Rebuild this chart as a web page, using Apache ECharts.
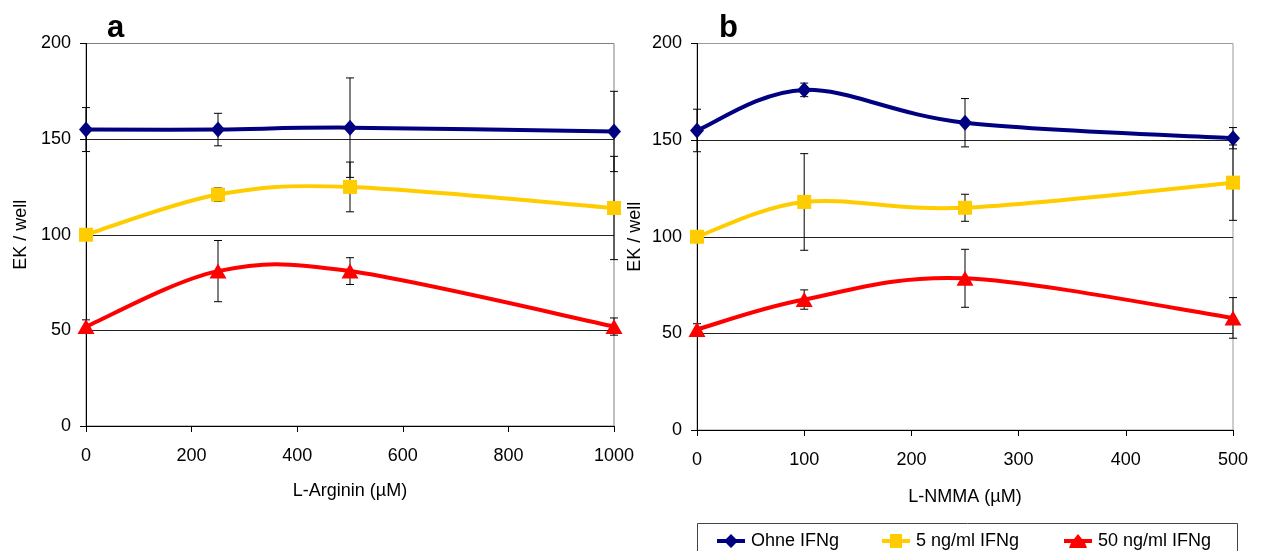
<!DOCTYPE html>
<html>
<head>
<meta charset="utf-8">
<script src="https://cdn.jsdelivr.net/npm/echarts@6/dist/echarts.min.js"></script>
<style>
html,body{margin:0;padding:0;background:#fff;}
#c{width:1261px;height:551px;}
</style>
</head>
<body>
<div id="c"></div>
<script>
// ---- Data ----
const seriesNames = ['Ohne IFNg', '5 ng/ml IFNg', '50 ng/ml IFNg'];

// Panel a: L-Arginin (µM)
const xA = [0, 250, 500, 1000];
const aOhne = [155, 155, 156, 154];
const aOhneErr = [11.5, 8.5, 26, 21];
const a5 = [100, 121, 125, 114];
const a5Err = [1, 3.5, 13, 27];
const a50 = [52, 81, 81, 52];
const a50Err = [3.5, 16, 7, 4.5];

// Panel b: L-NMMA (µM)
const xB = [0, 100, 250, 500];
const bOhne = [155, 176, 159, 151];
const bOhneErr = [11, 3.5, 12.5, 5.5];
const b5 = [100, 118, 115, 128];
const b5Err = [1, 25, 7, 19.5];
const b50 = [52, 67.5, 78.5, 58];
const b50Err = [3, 5, 15, 10.5];

const yTicks = [0, 50, 100, 150, 200];

// ---- Styles ----
const FONT = 'Liberation Sans, Arial, sans-serif';
const colors = ['#000080', '#FFCC00', '#FF0000'];
const symbols = ['diamond', 'rect', 'triangle'];
const symbolSizes = [[14, 16], 14, [17, 15]];
const legendIcons = [
  'path://M0,5 L9,5 L14,0 L19,5 L28,5 L28,9 L19,9 L14,14 L9,9 L0,9 Z',
  'path://M0,5 L8,5 L8,0 L20,0 L20,5 L28,5 L28,9 L20,9 L20,14 L8,14 L8,9 L0,9 Z',
  'path://M0,5 L10,5 L14,0 L18,5 L28,5 L28,9 L21,9 L23,14 L5,14 L7,9 L0,9 Z'
];

const chart = echarts.init(document.getElementById('c'), null, {renderer: 'canvas'});

function pairs(xs, ys) { return xs.map((x, i) => [x, ys[i]]); }
function triples(xs, ys, es) { return xs.map((x, i) => [x, ys[i], es[i]]); }

// markers (line itself drawn by the smooth custom series below)
function markerSeries(idx, k, xs, ys) {
  return {
    type: 'line', name: seriesNames[k], xAxisIndex: idx, yAxisIndex: idx,
    data: pairs(xs, ys),
    symbol: symbols[k], symbolSize: symbolSizes[k],
    lineStyle: {width: 0, opacity: 0},
    itemStyle: {color: colors[k]},
    z: 4, animation: false
  };
}

// smooth curve (Excel-like Catmull-Rom) through data points, via axis coords
function curveSeries(idx, k, xs, ys) {
  return {
    type: 'custom', name: seriesNames[k], xAxisIndex: idx, yAxisIndex: idx,
    data: pairs(xs, ys), encode: {x: 0, y: 1},
    z: 3, silent: true, animation: false,
    renderItem: function (params, api) {
      const i = params.dataIndex;
      const n = xs.length;
      if (i >= n - 1) return null;
      const P = (j) => api.coord([xs[Math.max(0, Math.min(n - 1, j))], ys[Math.max(0, Math.min(n - 1, j))]]);
      const p0 = P(i - 1), p1 = P(i), p2 = P(i + 1), p3 = P(i + 2);
      const t = 1 / 6;
      return {
        type: 'bezierCurve',
        shape: {
          x1: p1[0], y1: p1[1], x2: p2[0], y2: p2[1],
          cpx1: p1[0] + (p2[0] - p0[0]) * t, cpy1: p1[1] + (p2[1] - p0[1]) * t,
          cpx2: p2[0] - (p3[0] - p1[0]) * t, cpy2: p2[1] - (p3[1] - p1[1]) * t
        },
        style: {stroke: colors[k], lineWidth: 4, fill: null, lineCap: 'round'}
      };
    }
  };
}

function errSeries(idx, xs, ys, es) {
  return {
    type: 'custom', xAxisIndex: idx, yAxisIndex: idx,
    data: triples(xs, ys, es),
    encode: {x: 0, y: 1},
    z: 2, silent: true, animation: false,
    renderItem: function (params, api) {
      const x = api.value(0), y = api.value(1), e = api.value(2);
      const t = api.coord([x, y + e]);
      const b = api.coord([x, y - e]);
      const st = {stroke: '#000', lineWidth: 1};
      return {
        type: 'group',
        children: [
          {type: 'line', shape: {x1: t[0], y1: t[1], x2: b[0], y2: b[1]}, style: st},
          {type: 'line', shape: {x1: t[0] - 4, y1: t[1], x2: t[0] + 4, y2: t[1]}, style: st},
          {type: 'line', shape: {x1: b[0] - 4, y1: b[1], x2: b[0] + 4, y2: b[1]}, style: st}
        ]
      };
    }
  };
}

function xAxis(idx, max, interval, name, gap) {
  return {
    type: 'value', gridIndex: idx, min: 0, max: max, interval: interval,
    name: name, nameLocation: 'middle', nameGap: gap,
    nameTextStyle: {fontFamily: FONT, fontSize: 18, color: '#000'},
    axisLine: {show: true, onZero: false, lineStyle: {color: '#000', width: 1}},
    axisTick: {show: true, inside: false, length: 6, lineStyle: {color: '#000'}},
    axisLabel: {fontFamily: FONT, fontSize: 18, color: '#000', margin: 21, formatter: (v) => String(v)},
    splitLine: {show: false}
  };
}

function yAxis(idx, gap) {
  return {
    type: 'value', gridIndex: idx, min: yTicks[0], max: yTicks[yTicks.length - 1], interval: 50,
    name: 'EK / well', nameLocation: 'middle', nameGap: gap,
    nameTextStyle: {fontFamily: FONT, fontSize: 18, color: '#000'},
    axisLine: {show: true, lineStyle: {color: '#000', width: 1}},
    axisTick: {show: true, inside: false, length: 6, lineStyle: {color: '#000'}},
    axisLabel: {fontFamily: FONT, fontSize: 18, color: '#000', margin: 15},
    splitLine: {show: true, showMaxLine: false, lineStyle: {color: '#222', width: 1}}
  };
}

function legend(k, left) {
  return {
    data: [{name: seriesNames[k], icon: legendIcons[k]}], left: left, top: 532, padding: 0, itemGap: 0,
    itemWidth: 34, itemHeight: 14,
    textStyle: {fontFamily: FONT, fontSize: 18, color: '#000', padding: [0, 0, 0, -2]}
  };
}

const option = {
  backgroundColor: '#fff',
  animation: false,
  title: [
    {text: 'a', left: 102, top: 8, textStyle: {fontFamily: FONT, fontSize: 31, fontWeight: 'bold', color: '#000'}},
    {text: 'b', left: 714, top: 8, textStyle: {fontFamily: FONT, fontSize: 31, fontWeight: 'bold', color: '#000'}}
  ],
  grid: [
    {left: 86, right: 1261 - 614, top: 43.5, bottom: 551 - 426, show: true, borderColor: '#808080', borderWidth: 1},
    {left: 697, right: 1261 - 1233, top: 43.5, bottom: 551 - 430, show: true, borderColor: '#999', borderWidth: 1}
  ],
  xAxis: [
    xAxis(0, 1000, 200, 'L-Arginin (µM)', 56),
    xAxis(1, 500, 100, 'L-NMMA (µM)', 58)
  ],
  yAxis: [yAxis(0, 56), yAxis(1, 53)],
  legend: [legend(0, 717), legend(1, 882), legend(2, 1064)],
  graphic: [
    {type: 'rect', shape: {x: 697.5, y: 523.5, width: 540, height: 40}, style: {fill: 'none', stroke: '#444', lineWidth: 1}, silent: true}
  ],
  series: [
    markerSeries(0, 0, xA, aOhne),
    markerSeries(0, 1, xA, a5),
    markerSeries(0, 2, xA, a50),
    markerSeries(1, 0, xB, bOhne),
    markerSeries(1, 1, xB, b5),
    markerSeries(1, 2, xB, b50),
    curveSeries(0, 0, xA, aOhne),
    curveSeries(0, 1, xA, a5),
    curveSeries(0, 2, xA, a50),
    curveSeries(1, 0, xB, bOhne),
    curveSeries(1, 1, xB, b5),
    curveSeries(1, 2, xB, b50),
    errSeries(0, xA, aOhne, aOhneErr),
    errSeries(0, xA, a5, a5Err),
    errSeries(0, xA, a50, a50Err),
    errSeries(1, xB, bOhne, bOhneErr),
    errSeries(1, xB, b5, b5Err),
    errSeries(1, xB, b50, b50Err)
  ]
};
chart.setOption(option);
</script>
</body>
</html>
